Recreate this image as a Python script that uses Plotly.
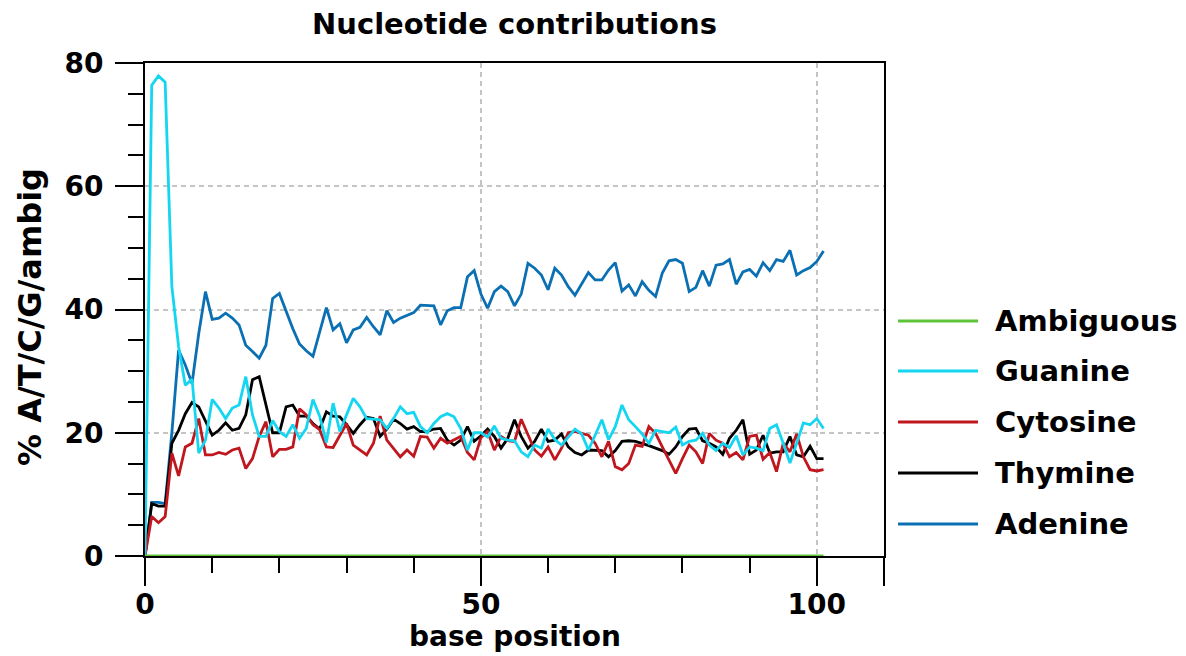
import plotly.graph_objects as go

positions = list(range(0, 102))

guanine = [0, 76.4, 77.9, 76.9, 43.7, 34, 27.7, 28.7, 16.7, 18.8,
           25.4, 24, 22.3, 24, 24.5, 29.1, 22.9, 19.4, 19.4, 22,
           20.2, 19.4, 21.3, 19.1, 20.7, 25.4, 22.7, 18.4, 24.8, 20.2,
           22.9, 25.6, 24.2, 22.3, 22.2, 22.1, 20.7, 22.3, 24.2, 23.1,
           23.3, 21, 20, 21.5, 22.6, 23.1, 22.6, 20.7, 17.2, 20,
           20, 19.3, 21.1, 19.1, 18.8, 18.7, 16.9, 16.1, 18, 17.5,
           20.6, 18.9, 18, 19.3, 20.6, 19.8, 17.2, 19.6, 22.1, 18.9,
           21, 24.5, 22.1, 21, 19.8, 18.3, 20.4, 20.2, 20, 20.9,
           18, 18.6, 18.8, 19.9, 18, 17.1, 18.3, 17.6, 19.5, 16.4,
           17.7, 17.5, 17.1, 20.7, 21.3, 18.3, 15.1, 18.3, 21.6, 21.3,
           22.3, 20.7]

adenine = [0, 8.7, 8.7, 8.5, 20, 33.4, 31, 28, 36.1, 42.9,
           38.4, 38.6, 39.4, 38.6, 37.5, 34.2, 33.2, 32.1, 34.2, 41.8,
           42.6, 39.6, 36.9, 34.4, 33.3, 32.4, 36.5, 40.3, 36.7, 37.7,
           34.6, 36.7, 37.1, 38.7, 37.2, 35.9, 39.8, 37.9, 38.6, 39.1,
           39.5, 40.7, 40.7, 40.6, 37.5, 39.8, 40.3, 40.3, 45.3, 46.3,
           42.5, 40.2, 42.9, 43.8, 42.9, 40.6, 42.5, 47.5, 46.7, 45.6,
           43.2, 46.7, 45.6, 43.7, 42.3, 44.1, 46, 44.8, 44.8, 46.4,
           47.6, 43, 44, 42.2, 44.5, 43.1, 42.1, 45.9, 47.9, 48.1,
           47.5, 42.9, 43.6, 46.3, 43.8, 47.2, 47.4, 48.1, 44.1, 46.1,
           46.5, 45.4, 47.6, 46.3, 48.1, 47.8, 49.6, 45.6, 46.3, 46.8,
           47.8, 49.5]

thymine = [0, 8.5, 8.1, 8.1, 18.3, 20.4, 23.1, 24.9, 24.2, 21.8,
           19.6, 20.4, 21.6, 20.4, 20.7, 22.9, 28.6, 29.1, 24.5, 20,
           20, 24.2, 24.5, 22.7, 22.7, 21.5, 20.6, 23.4, 22.7, 22.6,
           21.3, 19.9, 21.3, 22.5, 22.3, 19.4, 20.6, 22.2, 21.5, 20.6,
           21, 20.2, 20.2, 20.6, 20.7, 18.8, 18, 18.8, 21, 18.6,
           19.5, 20.6, 19.4, 17.5, 19.1, 22.1, 19.4, 17.5, 18.6, 20.6,
           18.6, 18.8, 19.8, 17.7, 16.8, 16.4, 17.2, 17.1, 17.1, 16.1,
           17.1, 18.6, 18.7, 18.6, 18.3, 17.9, 17.5, 17.1, 16.5, 17.7,
           19.4, 20.6, 20.7, 18.7, 18.3, 17.7, 16.5, 19.1, 20.4, 22.1,
           16.5, 17.2, 19.6, 16.7, 16.9, 16.9, 19.4, 16.4, 16.1, 17.8,
           15.8, 15.8]

cytosine = [0, 6.4, 5.4, 6.4, 16.7, 13, 17.7, 18.3, 22.3, 16.4,
            16.4, 16.8, 16.5, 17.2, 17.5, 14.2, 15.8, 19.4, 21.8, 16.1,
            17.3, 17.3, 17.7, 23.9, 22.9, 21.3, 20.5, 17.7, 17.6, 19.6,
            21.5, 18, 17.2, 16.4, 18.3, 22.7, 18.8, 17.5, 16.1, 17.2,
            16.2, 19.4, 19.3, 17.5, 19.1, 18.3, 18.9, 19.4, 16.8, 15.6,
            19.2, 20.2, 17.2, 19.4, 18.7, 18.6, 22.2, 19.6, 17.2, 16.2,
            17.7, 15.6, 17.5, 20, 20.2, 19.9, 19.6, 18.3, 16.1, 18.6,
            14.5, 14, 15, 18, 17.8, 21, 19.9, 17.7, 15.6, 13.4,
            15.8, 18, 16.9, 15, 19.9, 18.8, 18.3, 16.1, 16.8, 15.6,
            19.4, 19.6, 15.7, 16.8, 13.7, 18.3, 16.9, 19.8, 16.1, 14,
            13.8, 14]

ambiguous = [0] * len(positions)

series_names = ["Ambiguous", "Guanine", "Cytosine", "Thymine", "Adenine"]
series_values = [ambiguous, guanine, cytosine, thymine, adenine]
series_colors = ["#5ec43a", "#14d6f0", "#c0161e", "#000000", "#0b70b3"]

x_tickvals = [0, 50, 100, 110]
x_ticktext = ["0", "50", "100", ""]
y_tickvals = [0, 20, 40, 60, 80]

FONT = "DejaVu Sans"
OFF = 8                      # page body margin offset
W, H = 1186 - OFF, 656 - OFF
PL, PR, PT, PB = 145, 884, 63, 556   # plot area in page pixels
L, T = PL - OFF, PT - OFF
R, B = W - (PR - OFF), H - (PB - OFF)
pw, ph = PR - PL, PB - PT


def px_x(p):
    return (p - PL) / pw


def px_y(p):
    return (PB - p) / ph


fig = go.Figure()
for name, vals, col in reversed(list(zip(series_names, series_values, series_colors))):
    fig.add_trace(go.Scatter(x=positions, y=vals, mode="lines", name=name,
                             line=dict(color=col, width=2.8), showlegend=False))

# custom legend (line samples + labels)
leg_x0, leg_x1, leg_tx = 898, 978, 993
leg_y = [321, 371, 422, 473, 524]
for name, col, py in zip(series_names, series_colors, leg_y):
    fig.add_shape(type="line", xref="paper", yref="paper",
                  x0=px_x(leg_x0), x1=px_x(leg_x1), y0=px_y(py), y1=px_y(py),
                  line=dict(color=col, width=3))
    fig.add_annotation(xref="paper", yref="paper", x=px_x(leg_tx), y=px_y(py),
                       text="<b>%s</b>" % name, showarrow=False,
                       xanchor="left", yanchor="middle",
                       font=dict(family=FONT, size=29, color="black"))

# axis titles
fig.add_annotation(xref="paper", yref="paper", x=px_x(514.5), y=px_y(636),
                   text="<b>base position</b>", showarrow=False,
                   xanchor="center", yanchor="middle",
                   font=dict(family=FONT, size=28, color="black"))
fig.add_annotation(xref="paper", yref="paper", x=px_x(30), y=px_y(317),
                   text="<b>% A/T/C/G/ambig</b>", showarrow=False, textangle=-90,
                   xanchor="center", yanchor="middle",
                   font=dict(family=FONT, size=32, color="black"))

fig.update_layout(
    width=W, height=H,
    margin=dict(l=L, r=R, t=T, b=B, autoexpand=False),
    paper_bgcolor="white", plot_bgcolor="white",
    title=dict(text="<b>Nucleotide contributions</b>", x=(514.5 - OFF) / W, xanchor="center",
               y=1 - (24 - OFF) / H, yanchor="middle", yref="container",
               font=dict(family=FONT, size=29, color="black")),
    font=dict(family=FONT, color="black"),
)

fig.update_xaxes(
    range=[0, 110], tickvals=x_tickvals, ticktext=x_ticktext,
    ticks="outside", ticklen=28, tickwidth=2, tickcolor="black",
    showline=True, linecolor="black", linewidth=2, mirror=True,
    showgrid=True, gridcolor="#c4c4c4", gridwidth=2, griddash="5px,4px",
    zeroline=False, layer="below traces", automargin=False,
    ticklabelstandoff=-6,
    tickfont=dict(family=FONT, size=28, color="black", weight="bold"),
    minor=dict(dtick=10, tick0=0, ticks="outside", ticklen=15, tickwidth=2,
               tickcolor="black", showgrid=False),
)
fig.update_yaxes(
    range=[0, 80], tickvals=y_tickvals,
    ticks="outside", ticklen=28, tickwidth=2, tickcolor="black",
    showline=True, linecolor="black", linewidth=2, mirror=True,
    showgrid=True, gridcolor="#c4c4c4", gridwidth=2, griddash="5px,4px",
    zeroline=False, layer="below traces", automargin=False,
    ticklabelstandoff=6,
    tickfont=dict(family=FONT, size=28, color="black", weight="bold"),
    minor=dict(dtick=5, tick0=0, ticks="outside", ticklen=15, tickwidth=2,
               tickcolor="black", showgrid=False),
)

fig.write_html("out.html")
